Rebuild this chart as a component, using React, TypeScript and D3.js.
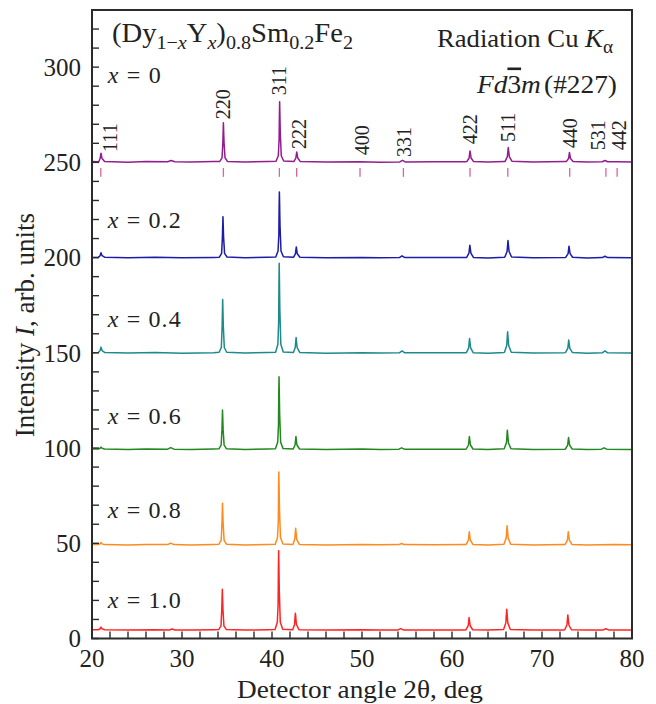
import React from "react";
import * as d3 from "d3";

// XRD patterns, (2θ, intensity), offsets included
const series0 = [[20,250.4],[20.7,250.3],[20.75,250.3],[20.9,252.0],[21.0,254.8],[21.12,252.0],[21.4,250.4],[24,250.1],[26,250.4],[28.4,250.3],[28.8,251.0],[29.2,250.3],[31,250.2],[33.5,250.4],[34.2,250.5],[34.45,252.4],[34.54,260.5],[34.6,270.8],[34.67,260.5],[34.78,252.4],[35.05,250.5],[37,250.2],[39.5,250.5],[40.45,250.6],[40.7,253.5],[40.79,262],[40.82,274],[40.85,281.8],[40.92,265.5],[41.03,253.5],[41.3,250.7],[42.45,250.5],[42.65,252.3],[42.75,255.5],[42.86,252.3],[43.15,250.4],[46,250.2],[49.7,250.3],[52,250.1],[54.2,250.2],[54.5,251.1],[54.8,250.2],[58,250.3],[61.5,250.3],[61.65,250.4],[61.9,252.3],[62.0,256.0],[62.12,252.3],[62.4,250.4],[64,250.2],[65.8,250.5],[65.9,250.5],[66.15,253.0],[66.25,257.8],[66.37,253.0],[66.65,250.6],[69,250.2],[72.6,250.4],[72.7,250.4],[72.95,252.0],[73.05,255.2],[73.17,252.0],[73.45,250.4],[75,250.2],[76.7,250.3],[77.0,251.0],[77.3,250.3],[78.3,250.3],[80,250.2]];
const series02 = [[20,200.1],[20.7,200.1],[20.9,201],[21.0,202.5],[21.12,201],[21.4,200.2],[24,199.9],[27,200.2],[30,199.9],[33.5,200.1],[34.15,200.2],[34.4,202.2],[34.49,210.8],[34.55,221.5],[34.62,210.8],[34.73,202.2],[35.0,200.3],[37,199.9],[39.5,200.2],[40.42,200.3],[40.67,203.5],[40.76,212],[40.79,226],[40.82,234.5],[40.89,217],[41.0,203.5],[41.27,200.4],[42.4,200.2],[42.6,202],[42.7,205.6],[42.81,202],[43.1,200.2],[46,199.9],[50,200.1],[52,199.9],[54.15,200],[54.45,200.9],[54.75,200],[58,200.1],[61.5,200.0],[61.63,200.1],[61.88,202.3],[61.98,206.5],[62.1,202.3],[62.38,200.1],[64,199.8],[65.8,200.2],[65.87,200.3],[66.12,203.2],[66.22,209],[66.34,203.2],[66.62,200.3],[69,199.9],[72.6,200.1],[72.65,200.2],[72.9,202.1],[73.0,206],[73.12,202.1],[73.4,200.2],[75,199.8],[76.7,200],[77.0,200.7],[77.3,200],[80,199.9]];
const series04 = [[20,150.1],[20.7,150.2],[20.9,151.2],[21.0,153],[21.12,151.2],[21.4,150.2],[24,149.9],[27,150.2],[30,149.8],[33.5,150.1],[34.12,150.3],[34.37,152.8],[34.46,164],[34.52,178],[34.59,164],[34.7,152.8],[34.97,150.3],[37,149.9],[39.5,150.2],[40.4,150.3],[40.65,154.5],[40.74,166],[40.77,185],[40.8,197],[40.87,173],[40.98,154.5],[41.25,150.4],[42.38,150.2],[42.58,152.8],[42.68,158],[42.79,152.8],[43.08,150.2],[46,149.8],[50,150.1],[52,149.9],[54.15,150],[54.45,151],[54.75,150],[58,150.1],[61.5,150],[61.6,150.1],[61.85,152.6],[61.95,157.5],[62.07,152.6],[62.35,150.1],[64,149.8],[65.8,150.2],[65.83,150.3],[66.08,153.8],[66.18,161],[66.3,153.8],[66.58,150.3],[69,149.9],[72.5,150.1],[72.62,150.2],[72.87,152.3],[72.97,156.7],[73.09,152.3],[73.37,150.2],[75,149.8],[76.7,150],[77.0,151],[77.3,150],[80,149.9]];
const series06 = [[20,99.5],[20.7,99.5],[20.9,99.9],[21.0,100.5],[21.12,99.9],[21.4,99.5],[24,99.3],[26,99.5],[28.4,99.4],[28.75,100.2],[29.1,99.4],[31,99.3],[33.5,99.5],[34.1,99.6],[34.35,101.5],[34.44,109.8],[34.5,120],[34.57,109.8],[34.68,101.5],[34.95,99.6],[37,99.3],[39.5,99.5],[40.38,99.6],[40.63,103],[40.72,112],[40.75,128],[40.78,137.4],[40.85,118],[40.96,103],[41.23,99.7],[42.36,99.5],[42.56,101.6],[42.66,106],[42.77,101.6],[43.06,99.5],[46,99.3],[50,99.5],[52,99.3],[54.1,99.4],[54.4,100.1],[54.7,99.4],[58,99.4],[61.5,99.4],[61.58,99.5],[61.83,101.6],[61.93,106],[62.05,101.6],[62.33,99.5],[64,99.3],[65.8,99.6],[66.05,102.8],[66.15,109.4],[66.27,102.8],[66.55,99.6],[69,99.3],[72.5,99.4],[72.6,99.5],[72.85,101.5],[72.95,105.6],[73.07,101.5],[73.35,99.5],[75,99.3],[76.6,99.4],[76.9,100.1],[77.2,99.4],[80,99.3]];
const series08 = [[20,49.3],[20.7,49.3],[20.9,49.7],[21.0,50.4],[21.12,49.7],[21.4,49.3],[24,49.1],[26,49.3],[28.4,49.3],[28.75,50.1],[29.1,49.3],[31,49.1],[33.5,49.4],[34.1,49.5],[34.35,51.5],[34.44,60.3],[34.5,71],[34.57,60.3],[34.68,51.5],[34.95,49.5],[37,49.1],[39.5,49.4],[40.36,49.5],[40.61,53],[40.7,62],[40.73,78],[40.76,87.4],[40.83,68],[40.94,53],[41.21,49.6],[42.33,49.4],[42.53,52.2],[42.63,57.9],[42.74,52.2],[43.03,49.4],[46,49.1],[50,49.4],[52,49.2],[54.1,49.3],[54.4,49.9],[54.7,49.3],[58,49.2],[61.5,49.3],[61.57,49.4],[61.82,51.6],[61.92,56],[62.04,51.6],[62.32,49.4],[64,49.1],[65.77,49.5],[66.02,52.7],[66.12,59.2],[66.24,52.7],[66.52,49.5],[69,49.1],[72.5,49.3],[72.57,49.4],[72.82,51.6],[72.92,56],[73.04,51.6],[73.32,49.4],[75,49.1],[78,49.3],[80,49.2]];
const series10 = [[20,4.6],[20.7,4.6],[20.9,5.1],[21.0,6.0],[21.12,5.1],[21.4,4.6],[24,4.4],[27,4.6],[28.6,4.5],[28.9,5.0],[29.2,4.5],[31,4.4],[33.5,4.6],[34.08,4.7],[34.33,6.6],[34.42,15.2],[34.48,25.9],[34.55,15.2],[34.66,6.6],[34.93,4.7],[37,4.4],[39.5,4.6],[40.34,4.7],[40.59,8.5],[40.68,18],[40.71,36],[40.74,46.1],[40.81,25],[40.92,8.5],[41.19,4.8],[42.3,4.6],[42.5,7.4],[42.6,13.3],[42.71,7.4],[43.0,4.6],[46,4.4],[50,4.6],[52,4.4],[54.0,4.5],[54.3,5.2],[54.6,4.5],[58,4.5],[61.5,4.5],[61.55,4.6],[61.8,6.7],[61.9,11],[62.02,6.7],[62.3,4.6],[64,4.4],[65.73,4.7],[65.98,8.2],[66.08,15.4],[66.2,8.2],[66.48,4.7],[69,4.4],[72.4,4.5],[72.52,4.6],[72.77,7.1],[72.87,12.4],[72.99,7.1],[73.27,4.6],[75,4.4],[76.8,4.5],[77.1,5.1],[77.4,4.5],[80,4.4]];

const seriesData = [series0, series02, series04, series06, series08, series10];
const seriesNames = ["0", "0.2", "0.4", "0.6", "0.8", "1.0"];
const seriesColors = ["#921d8e", "#1c1ca6", "#1e8a8a", "#22881f", "#ff8a1e", "#ff2424"];
const seriesLabelY = [291.5, 215.4, 163.5, 112.6, 63.3, 16];

// reference reflections (Fd-3m)
const hkl = ["111", "220", "311", "222", "400", "331", "422", "511", "440", "531", "442"];
const hklPos = [20.98, 34.6, 40.82, 42.74, 49.78, 54.6, 62.0, 66.2, 73.08, 77.1, 78.35];
const hklLabelX = [21.95, 34.6, 40.8, 42.98, 49.95, 54.65, 62.05, 66.25, 73.08, 76.2, 78.55];
const hklLabelY = [255.5, 272.6, 285.2, 257, 253.7, 252.8, 259.5, 260.7, 257.4, 256.4, 256.4];

const xTicks = [20, 30, 40, 50, 60, 70, 80];
const yTicks = [0, 50, 100, 150, 200, 250, 300];

export default function App() {
  const width = 656,
    height = 704;
  const left = 92,
    right = 632,
    top = 10,
    bottom = 638.5;

  const x = d3.scaleLinear().domain([20, 80]).range([left, right]);
  const y = d3.scaleLinear().domain([0, 330]).range([bottom, top]);

  const line = d3
    .line<number[]>()
    .x(d => x(d[0]))
    .y(d => y(d[1]));

  const xMinor = d3.range(20, 80.1, 2);
  const yMinor = d3.range(0, 321, 10);
  const axisColor = "#2b2b2b";
  const ink = "#222";

  return (
    <svg
      width={width}
      height={height}
      style={{
        position: "absolute",
        left: 0,
        top: 0,
        background: "#fff",
        fontFamily: '"Liberation Serif", "Times New Roman", Tinos, serif'
      }}
    >
      {seriesData.map((s, i) => (
        <path
          key={seriesNames[i]}
          d={line(s) || ""}
          fill="none"
          stroke={seriesColors[i]}
          strokeWidth={1.5}
          strokeLinejoin="round"
        />
      ))}

      {hklPos.map(p => (
        <line
          key={p}
          x1={x(p)}
          x2={x(p)}
          y1={y(247)}
          y2={y(242.4)}
          stroke="#e0609a"
          strokeWidth={1.3}
        />
      ))}

      {hkl.map((h, i) => (
        <text
          key={h}
          transform={`translate(${x(hklLabelX[i])},${y(hklLabelY[i])}) rotate(-90)`}
          dominantBaseline="central"
          fontSize={20}
          fill={ink}
        >
          {h}
        </text>
      ))}

      {seriesNames.map((n, i) => (
        <text
          key={n}
          x={x(21.75)}
          y={y(seriesLabelY[i])}
          fontSize={24}
          fill={ink}
          textLength={n === "0" ? 53 : 73}
          lengthAdjust="spacing"
        >
          <tspan fontStyle="italic">x</tspan>
          {" = " + n}
        </text>
      ))}

      {/* frame */}
      <rect
        x={left}
        y={top}
        width={right - left}
        height={bottom - top}
        fill="none"
        stroke={axisColor}
        strokeWidth={2}
      />

      {xMinor.map(t => (
        <line key={t} x1={x(t)} x2={x(t)} y1={bottom} y2={bottom - 7} stroke={axisColor} strokeWidth={1.4} />
      ))}
      {yMinor.map(t => (
        <line key={t} x1={left} x2={left + 7} y1={y(t)} y2={y(t)} stroke={axisColor} strokeWidth={1.4} />
      ))}

      {xTicks.map(t => (
        <text key={t} x={x(t)} y={bottom + 28} textAnchor="middle" fontSize={25} fill={ink}>
          {t}
        </text>
      ))}
      {yTicks.map(t => (
        <text key={t} x={left - 11} y={y(t)} dy="0.35em" textAnchor="end" fontSize={25} fill={ink}>
          {t}
        </text>
      ))}

      <text x={360} y={698} textAnchor="middle" fontSize={26} fill={ink} textLength={246} lengthAdjust="spacingAndGlyphs">
        Detector angle 2θ, deg
      </text>
      <text transform={`translate(34,325) rotate(-90)`} textAnchor="middle" fontSize={27} fill={ink}>
        Intensity <tspan fontStyle="italic">I</tspan>, arb. units
      </text>

      <text x={112} y={42} fontSize={27} fill={ink} textLength={241} lengthAdjust="spacingAndGlyphs">
        (Dy
        <tspan dy={7} fontSize={19}>1−</tspan>
        <tspan fontSize={19} fontStyle="italic">x</tspan>
        <tspan dy={-7}>Y</tspan>
        <tspan dy={7} fontSize={19} fontStyle="italic">x</tspan>
        <tspan dy={-7}>)</tspan>
        <tspan dy={7} fontSize={19}>0.8</tspan>
        <tspan dy={-7}>Sm</tspan>
        <tspan dy={7} fontSize={19}>0.2</tspan>
        <tspan dy={-7}>Fe</tspan>
        <tspan dy={7} fontSize={19}>2</tspan>
      </text>

      <text x={613} y={47} textAnchor="end" fontSize={25} fill={ink} textLength={176} lengthAdjust="spacingAndGlyphs">
        Radiation Cu <tspan fontStyle="italic">K</tspan>
        <tspan dy={6} fontSize={18}>α</tspan>
      </text>
      <text x={617} y={92.5} textAnchor="end" fontSize={26} fill={ink} textLength={140} lengthAdjust="spacingAndGlyphs">
        <tspan fontStyle="italic">Fd</tspan>
        <tspan style={{ textDecoration: "overline" }}>3</tspan>
        <tspan fontStyle="italic">m</tspan>
        <tspan dx={3}>(#227)</tspan>
      </text>
    </svg>
  );
}
